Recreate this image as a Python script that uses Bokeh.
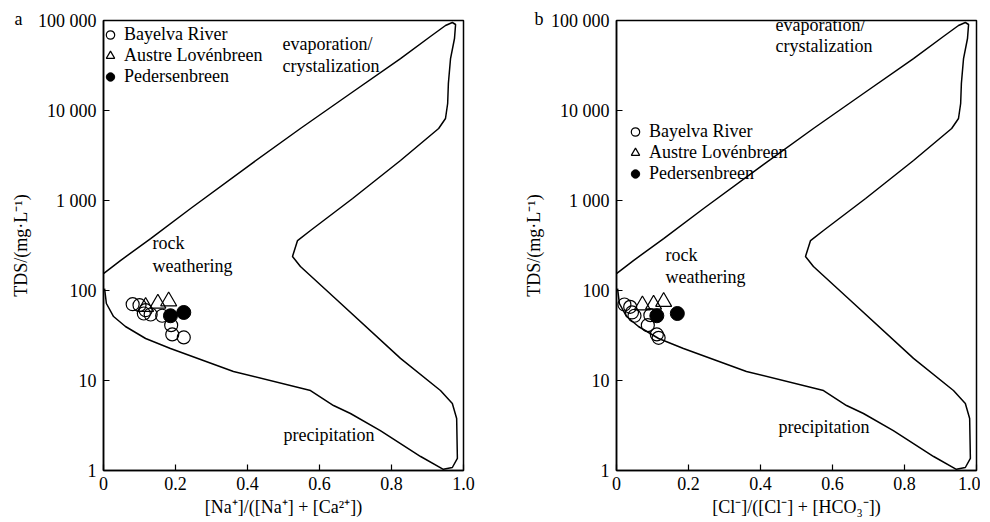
from bokeh.plotting import figure
from bokeh.models import Label, Legend, LegendItem, FixedTicker
from bokeh.layouts import row
from bokeh.embed import file_html
from bokeh.resources import INLINE

FONT = "Liberation Serif"
FS = "18px"

# Gibbs boundary (ratio, TDS mg/L), same envelope for both panels
gibbs_ratio = [0.000, 0.047, 0.131, 0.242, 0.408, 0.547, 0.686, 0.825, 0.908, 0.950, 0.969,
               0.978, 0.975, 0.964, 0.958, 0.956, 0.950, 0.931,
               0.825, 0.692, 0.575, 0.539, 0.525, 0.547, 0.644, 0.825, 0.936, 0.969, 0.981,
               0.983, 0.969, 0.944,
               0.881, 0.769, 0.686, 0.639, 0.575, 0.361, 0.186, 0.117, 0.061, 0.028, 0.008, 0.003]
gibbs_tds = [154, 215, 378, 815, 2510, 6310, 15450, 37800, 66400, 88000, 95000,
             90300, 63100, 37800, 19950, 11960, 8150, 6310,
             2780, 1052, 464, 359, 239, 185, 81.5, 17.6, 7.74, 5.55, 3.78,
             1.36, 1.08, 1.03,
             1.43, 2.78, 4.30, 5.27, 7.74, 12.6, 22.7, 29.3, 39.8, 51.4, 71.7, 105]

# Panel a: Na/(Na+Ca)
a_bayelva_x = [0.081, 0.100, 0.112, 0.117, 0.131, 0.163, 0.188, 0.191, 0.223]
a_bayelva_tds = [70.4, 68.7, 55.5, 60.4, 54.1, 52.4, 41.2, 32.5, 30.1]
a_austre_x = [0.117, 0.151, 0.181]
a_austre_tds = [65.9, 71.7, 76.1]
a_peder_x = [0.186, 0.223]
a_peder_tds = [52.4, 57.0]

# Panel b: Cl/(Cl+HCO3)
b_bayelva_x = [0.022, 0.038, 0.043, 0.050, 0.094, 0.087, 0.112, 0.117]
b_bayelva_tds = [69.9, 65.9, 57.0, 52.4, 53.2, 41.2, 32.5, 29.8]
b_austre_x = [0.072, 0.103, 0.131]
b_austre_tds = [68.7, 69.9, 74.9]
b_peder_x = [0.112, 0.169]
b_peder_tds = [52.4, 55.5]

x_ticks = [0, 0.2, 0.4, 0.6, 0.8, 1.0]
x_tick_labels = ["0", "0.2", "0.4", "0.6", "0.8", "1.0"]
y_ticks = [1, 10, 100, 1000, 10000, 100000]
y_tick_labels = ["1", "10", "100", "1 000", "10 000", "100 000"]

series_names = ["Bayelva River", "Austre Lovénbreen", "Pedersenbreen"]


def make_panel(letter, letter_dx, xlabel, bx, by, ax_, ay, px, py,
               texts, legend_loc, border_left, border_right):
    p = figure(frame_width=360, frame_height=450, x_range=(0, 1), y_range=(1, 100000),
               y_axis_type="log", output_backend="svg", toolbar_location=None,
               min_border_left=border_left, min_border_right=border_right,
               min_border_top=20, min_border_bottom=36)
    p.grid.visible = False
    p.outline_line_color = "black"
    p.outline_line_width = 1.5
    p.background_fill_color = "white"
    p.border_fill_color = "white"

    # panel letter as a left-aligned title shifted left of the frame
    p.title.text = letter
    p.title.align = "left"
    p.title.offset = letter_dx
    p.title.standoff = -16
    p.title.text_font = FONT
    p.title.text_font_size = FS
    p.title.text_font_style = "normal"
    p.title.text_color = "black"

    for axis in (p.xaxis[0], p.yaxis[0]):
        axis.axis_line_color = "black"
        axis.axis_line_width = 1.5
        axis.major_tick_in = 6
        axis.major_tick_out = 0
        axis.major_tick_line_width = 1.2
        axis.major_tick_line_color = "black"
        axis.minor_tick_line_color = None
        axis.major_label_text_font = FONT
        axis.major_label_text_font_size = FS
        axis.major_label_text_color = "black"
        axis.axis_label_text_font = FONT
        axis.axis_label_text_font_size = FS
        axis.axis_label_text_font_style = "normal"
        axis.axis_label_text_color = "black"

    p.xaxis.ticker = FixedTicker(ticks=x_ticks)
    p.xaxis.major_label_overrides = dict(zip(x_ticks, x_tick_labels))
    p.xaxis.major_label_standoff = 6
    p.xaxis.axis_label = xlabel
    p.xaxis.axis_label_standoff = 4

    p.yaxis.ticker = FixedTicker(ticks=y_ticks)
    p.yaxis.major_label_overrides = dict(zip(y_ticks, y_tick_labels))
    p.yaxis.major_label_standoff = 7
    p.yaxis.axis_label = "TDS/(mg·L⁻¹)"
    p.yaxis.axis_label_standoff = 4

    p.line(gibbs_ratio, gibbs_tds, line_color="black", line_width=1.5)

    r1 = p.scatter(bx, by, marker="circle", size=13, fill_color=None,
                   line_color="black", line_width=1.2)
    r2 = p.scatter(ax_, ay, marker="triangle", size=16, fill_color=None,
                   line_color="black", line_width=1.2)
    r3 = p.scatter(px, py, marker="circle", size=14, fill_color="black",
                   line_color="black", line_width=1.0)

    for (t, x, y) in texts:
        p.add_layout(Label(x=x, y=y, text=t, text_font=FONT, text_font_size=FS,
                           text_color="black", text_baseline="middle", text_align="left"))

    legend = Legend(items=[LegendItem(label=series_names[0], renderers=[r1]),
                           LegendItem(label=series_names[1], renderers=[r2]),
                           LegendItem(label=series_names[2], renderers=[r3])],
                    location=legend_loc, orientation="vertical",
                    glyph_width=26, glyph_height=21, label_height=21, spacing=0,
                    padding=0, margin=0, border_line_color=None,
                    background_fill_alpha=0, label_text_font=FONT,
                    label_text_font_size=FS, label_standoff=1,
                    label_text_baseline="middle", label_text_color="black")
    p.add_layout(legend)
    return p


pa = make_panel("a", -89, "[Na⁺]/([Na⁺] + [Ca²⁺])",
                a_bayelva_x, a_bayelva_tds, a_austre_x, a_austre_tds, a_peder_x, a_peder_tds,
                [("evaporation/", 0.497, 55500), ("crystalization", 0.497, 31600),
                 ("rock", 0.136, 333), ("weathering", 0.136, 187),
                 ("precipitation", 0.5, 2.51)],
                (-6, 383.5), 103, 53)

pb = make_panel("b", -82, "[Cl⁻]/([Cl⁻] + [HCO₃⁻])",
                b_bayelva_x, b_bayelva_tds, b_austre_x, b_austre_tds, b_peder_x, b_peder_tds,
                [("evaporation/", 0.442, 88000), ("crystalization", 0.442, 52700),
                 ("rock", 0.136, 251), ("weathering", 0.136, 143),
                 ("precipitation", 0.45, 3.08)],
                (6, 286.5), 100, 4)

layout = row(pa, pb)
open("out.html", "w").write(file_html(layout, INLINE))
